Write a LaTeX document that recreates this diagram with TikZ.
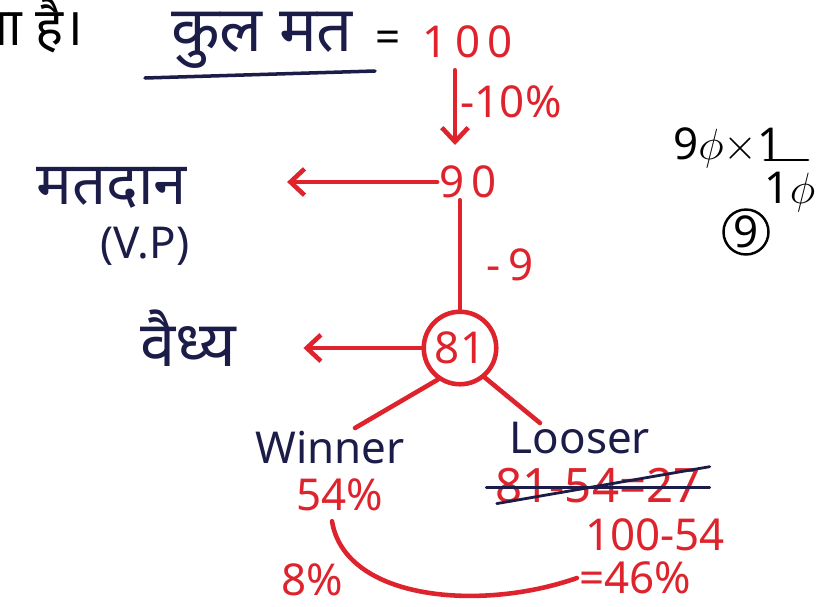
\documentclass[tikz,border=0pt]{standalone}
\usepackage{fontspec}
\setmainfont{Noto Sans}
\newfontfamily\hindi[Script=Devanagari]{Noto Sans}
\usetikzlibrary{arrows.meta, positioning}
\definecolor{inkred}{RGB}{222,35,45}
\definecolor{inkblue}{RGB}{28,28,72}

\begin{document}
\begin{tikzpicture}[
    x=0.02cm, y=-0.02cm,
    redtxt/.style={
        text=inkred,
        inner sep=1pt,
        font=\fontsize{25}{28}\selectfont
    },
    bluetxt/.style={
        text=inkblue,
        inner sep=1pt,
        font=\hindi\fontsize{36}{40}\selectfont
    },
    latin/.style={bluetxt, font=\fontsize{25}{28}\selectfont},
    link/.style={draw=inkred, line width=2.6pt, line cap=round},
    arrow/.style={link, -{Straight Barb[length=8pt,width=15pt]}},
    strike/.style={draw=inkblue, line width=1.6pt, line cap=round}
]
\useasboundingbox[fill=white] (0,0) rectangle (826,606);

% Top line
\node[bluetxt, text=black, font=\hindi\fontsize{30}{34}\selectfont, anchor=east] (prev) at (86,26) {ता है।};
\node[bluetxt] (total) at (262,40) {कुल मत};
\draw[strike, line width=2pt] (145,78) -- (375,71);
\node[redtxt, text=black] (eq) at (388,42) {=};
\node[redtxt] (n100) at (468,42) {1\,0\,0};

% 90 and invalid votes
\node[redtxt] (n90) at (468,182) {9\,0};
\draw[arrow] (n100.south -| 455,0) ++(0,10) coordinate (a100) -- (455,145);
\node[redtxt, right=2pt of a100, yshift=-18pt] (p10) {-10\%};
\node[bluetxt, font=\hindi\fontsize{34}{38}\selectfont] (vp) at (112,188) {मतदान};
\node[latin] (vpen) at (145,246) {(V.P)};
\draw[arrow] (n90.west) -- ++(-150,0) coordinate (a90);

% 81 valid votes
\node[circle, draw=inkred, line width=2.6pt, redtxt, minimum size=1.45cm] (c81) at (460,348) {81};
\draw[link] (n90.south -| c81.north) -- (c81.north);
\node[redtxt] (m9) at (510,265) {-\,9};
\node[bluetxt] (valid) at (188,338) {वैध्य};
\draw[arrow] (c81.west) -- ++(-118,0);

% Winner / Looser
\node[latin] (win) at (330,448) {Winner};
\node[latin] (lose) at (580,438) {Looser};
\draw[link] (c81.235) -- (355,428);
\draw[link] (c81.-50) -- (540,423);

\node[redtxt] (n54) at (340,495) {54\%};
\node[redtxt, font=\fontsize{27}{30}\selectfont] (s27) at (598,486) {81-54=27};
\draw[strike] ([xshift=-4pt, yshift=-1pt]s27.west) -- ([xshift=4pt, yshift=-1pt]s27.east);
\draw[strike] ([xshift=2pt, yshift=-10pt]s27.west) -- ([xshift=4pt, yshift=11pt]s27.east);
\node[redtxt] (n10054) at (655,535) {100-54};
\node[redtxt] (n46) at (635,578) {=46\%};
\node[redtxt] (n8) at (312,580) {8\%};
\draw[link] (n54.south) ++(-8,8) .. controls (345,600) and (480,612) .. (n46.west);

% Side working
\node[redtxt, text=black] (calc) at (728,148) {9$\phi$$\times$1};
\draw[strike, draw=black] (765,160) -- (808,160);
\node[redtxt, text=black] (den) at (790,192) {1$\phi$};
\node[circle, draw=black, line width=1.4pt, redtxt, text=black, minimum size=0.9cm, inner sep=0pt] (c9) at (746,232) {9};

\end{tikzpicture}
\end{document}
